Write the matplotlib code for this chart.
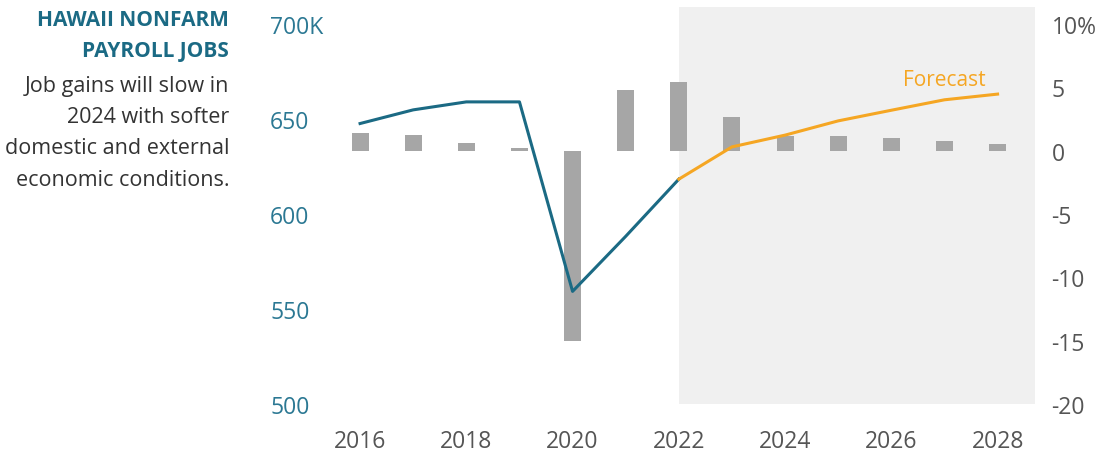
import matplotlib.pyplot as plt

plt.rcParams['font.family'] = ['Open Sans', 'DejaVu Sans']

years = [2016, 2017, 2018, 2019, 2020, 2021, 2022, 2023, 2024, 2025, 2026, 2027, 2028]
pct_change = [1.42, 1.21, 0.58, 0.18, -15.0, 4.79, 5.42, 2.65, 1.2, 1.2, 0.98, 0.76, 0.55]

actual_years = [2016, 2017, 2018, 2019, 2020, 2021, 2022]
actual_jobs = [647.7, 654.9, 659.1, 659.1, 559.3, 588.3, 618.4]

forecast_years = [2022, 2023, 2024, 2025, 2026, 2027, 2028]
forecast_jobs = [618.4, 635.4, 641.6, 649.1, 654.7, 660.2, 663.2]

left_ticks = [500, 550, 600, 650, 700]
left_labels = ['500', '550', '600', '650', '700K']
right_ticks = [-20, -15, -10, -5, 0, 5, 10]
right_labels = ['-20', '-15', '-10', '-5', '0', '5', '10%']

teal = '#1b6a84'
teal_lbl = '#2b7893'
orange = '#f5a623'
grey_bar = '#a6a6a6'
txt = '#555555'

fig = plt.figure(figsize=(11.02, 4.52), dpi=100)
ax = fig.add_axes([0.293, 0.104, 0.646, 0.878])
ax2 = ax.twinx()

# bars + shaded forecast region on the % axis (drawn underneath)
ax2.axvspan(2022, 2028.7, color='#f0f0f0', zorder=0, lw=0)
ax2.bar(years, pct_change, width=0.32, color=grey_bar, zorder=2)
ax2.set_ylim(-20, 11.34)

# job levels line on top
ax.set_zorder(ax2.get_zorder() + 1)
ax.patch.set_visible(False)
ax.plot(actual_years, actual_jobs, color=teal, lw=2.2, zorder=3)
ax.plot(forecast_years, forecast_jobs, color=orange, lw=2.2, zorder=3)
ax.text(2027.0, 665.5, 'Forecast', color=orange, fontsize=15, ha='center', va='bottom')
ax.set_ylim(500, 709)
ax.set_xlim(2015.3, 2028.7)

ax.set_yticks(left_ticks)
ax.set_yticklabels(left_labels)
ax.tick_params(axis='y', length=0, pad=38, labelsize=16.5, labelcolor=teal_lbl)
for lbl in ax.get_yticklabels():
    lbl.set_horizontalalignment('left')
ax.set_xticks(range(2016, 2029, 2))
ax.tick_params(axis='x', length=0, pad=18, labelsize=16.5, labelcolor=txt)

ax2.set_yticks(right_ticks)
ax2.set_yticklabels(right_labels)
ax2.tick_params(axis='y', length=0, pad=12, labelsize=16.5, labelcolor=txt)

for a in (ax, ax2):
    for s in a.spines.values():
        s.set_visible(False)

fig.text(0.208, 0.978, 'HAWAII NONFARM\nPAYROLL JOBS', ha='right', va='top',
         fontsize=15, fontweight='bold', color=teal, linespacing=1.62)
fig.text(0.208, 0.832, 'Job gains will slow in\n2024 with softer\ndomestic and external\neconomic conditions.',
         ha='right', va='top', fontsize=15.5, color='#333333', linespacing=1.64)

fig.savefig('out.png', dpi=100)
